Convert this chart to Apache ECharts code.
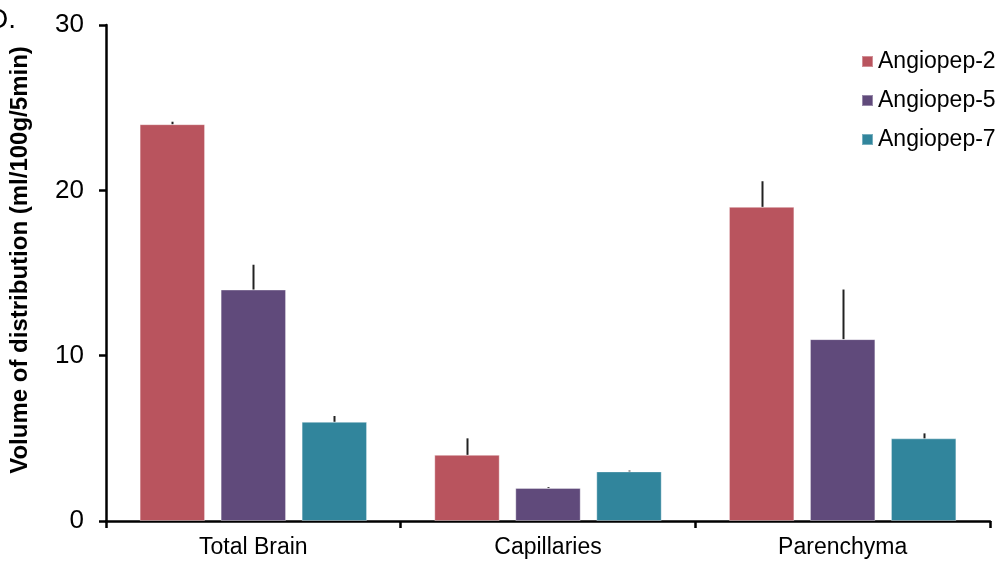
<!DOCTYPE html>
<html>
<head>
<meta charset="utf-8">
<style>
html,body{margin:0;padding:0;background:#fff;}
#chart{width:1000px;height:564px;}
</style>
<script src="https://cdn.jsdelivr.net/npm/echarts@6/dist/echarts.min.js"></script>
</head>
<body>
<div id="chart"></div>
<script>
var categories = ['Total Brain', 'Capillaries', 'Parenchyma'];
var seriesNames = ['Angiopep-2', 'Angiopep-5', 'Angiopep-7'];
var angiopep2 = [24, 4, 19];
var angiopep2Err = [0.15, 1.0, 1.55];
var angiopep5 = [14, 2, 11];
var angiopep5Err = [1.5, 0.05, 3.0];
var angiopep7 = [6, 3, 5];
var angiopep7Err = [0.35, 0.05, 0.3];
var yTicks = [0, 10, 20, 30];

var values = [angiopep2, angiopep5, angiopep7];
var errors = [angiopep2Err, angiopep5Err, angiopep7Err];
var colors = ['#B9545E', '#604A7B', '#31859C'];
var BAR_W = 65.4, BAR_GAP = 15.6;
var FONT = '"Liberation Sans", Arial, sans-serif';

var chart = echarts.init(document.getElementById('chart'), null, {renderer: 'canvas'});

var series = [];
values.forEach(function (vals, si) {
  series.push({
    name: seriesNames[si],
    type: 'bar',
    data: vals,
    barWidth: BAR_W,
    barGap: (BAR_GAP / BAR_W * 100) + '%',
    itemStyle: {color: colors[si], borderColor: 'rgba(255,255,255,0.35)', borderWidth: 1},
    z: 2
  });
});
values.forEach(function (vals, si) {
  var data = vals.map(function (v, i) { return [i, v, v + errors[si][i]]; });
  series.push({
    type: 'custom',
    name: seriesNames[si] + ' err',
    data: data,
    z: 3,
    silent: true,
    renderItem: function (params, api) {
      var idx = api.value(0);
      var p1 = api.coord([idx, api.value(1)]);
      var p2 = api.coord([idx, api.value(2)]);
      var off = (si - 1) * (BAR_W + BAR_GAP);
      var x = Math.round(p1[0] + off) + 0.5;
      return {
        type: 'line',
        shape: {x1: x, y1: p1[1], x2: x, y2: p2[1]},
        style: {stroke: '#222', lineWidth: 2}
      };
    }
  });
});

chart.setOption({
  animation: false,
  backgroundColor: '#fff',
  grid: {left: 106, right: 10, top: 25, bottom: 43, containLabel: false},
  legend: {
    data: seriesNames,
    orient: 'vertical',
    left: 856,
    top: 45,
    itemWidth: 11,
    itemHeight: 11,
    itemGap: 16,
    icon: 'rect',
    textStyle: {fontFamily: FONT, fontSize: 23, color: '#000', lineHeight: 23}
  },
  xAxis: {
    type: 'category',
    data: categories,
    axisLine: {lineStyle: {color: '#000', width: 2.5}},
    axisTick: {show: true, length: 7, lineStyle: {color: '#000', width: 2.5}},
    axisLabel: {fontFamily: FONT, fontSize: 23, color: '#000', margin: 15}
  },
  yAxis: {
    type: 'value',
    min: yTicks[0],
    max: yTicks[yTicks.length - 1],
    interval: 10,
    splitLine: {show: false},
    axisLine: {show: true, lineStyle: {color: '#000', width: 2.5}},
    axisTick: {show: true, length: 7, lineStyle: {color: '#000', width: 2.5}},
    axisLabel: {fontFamily: FONT, fontSize: 26, color: '#000', margin: 22}
  },
  graphic: [
    {
      type: 'text',
      x: 20, y: 260,
      rotation: Math.PI / 2,
      style: {
        text: 'Volume of distribution (ml/100g/5min)',
        fontFamily: FONT, fontSize: 24, fontWeight: 'bold', fill: '#000',
        align: 'center', verticalAlign: 'middle'
      }
    },
    {
      type: 'text',
      x: -12, y: 20,
      style: {text: 'D.', fontFamily: FONT, fontSize: 28, fill: '#000', verticalAlign: 'middle'}
    }
  ],
  series: series
});
</script>
</body>
</html>
